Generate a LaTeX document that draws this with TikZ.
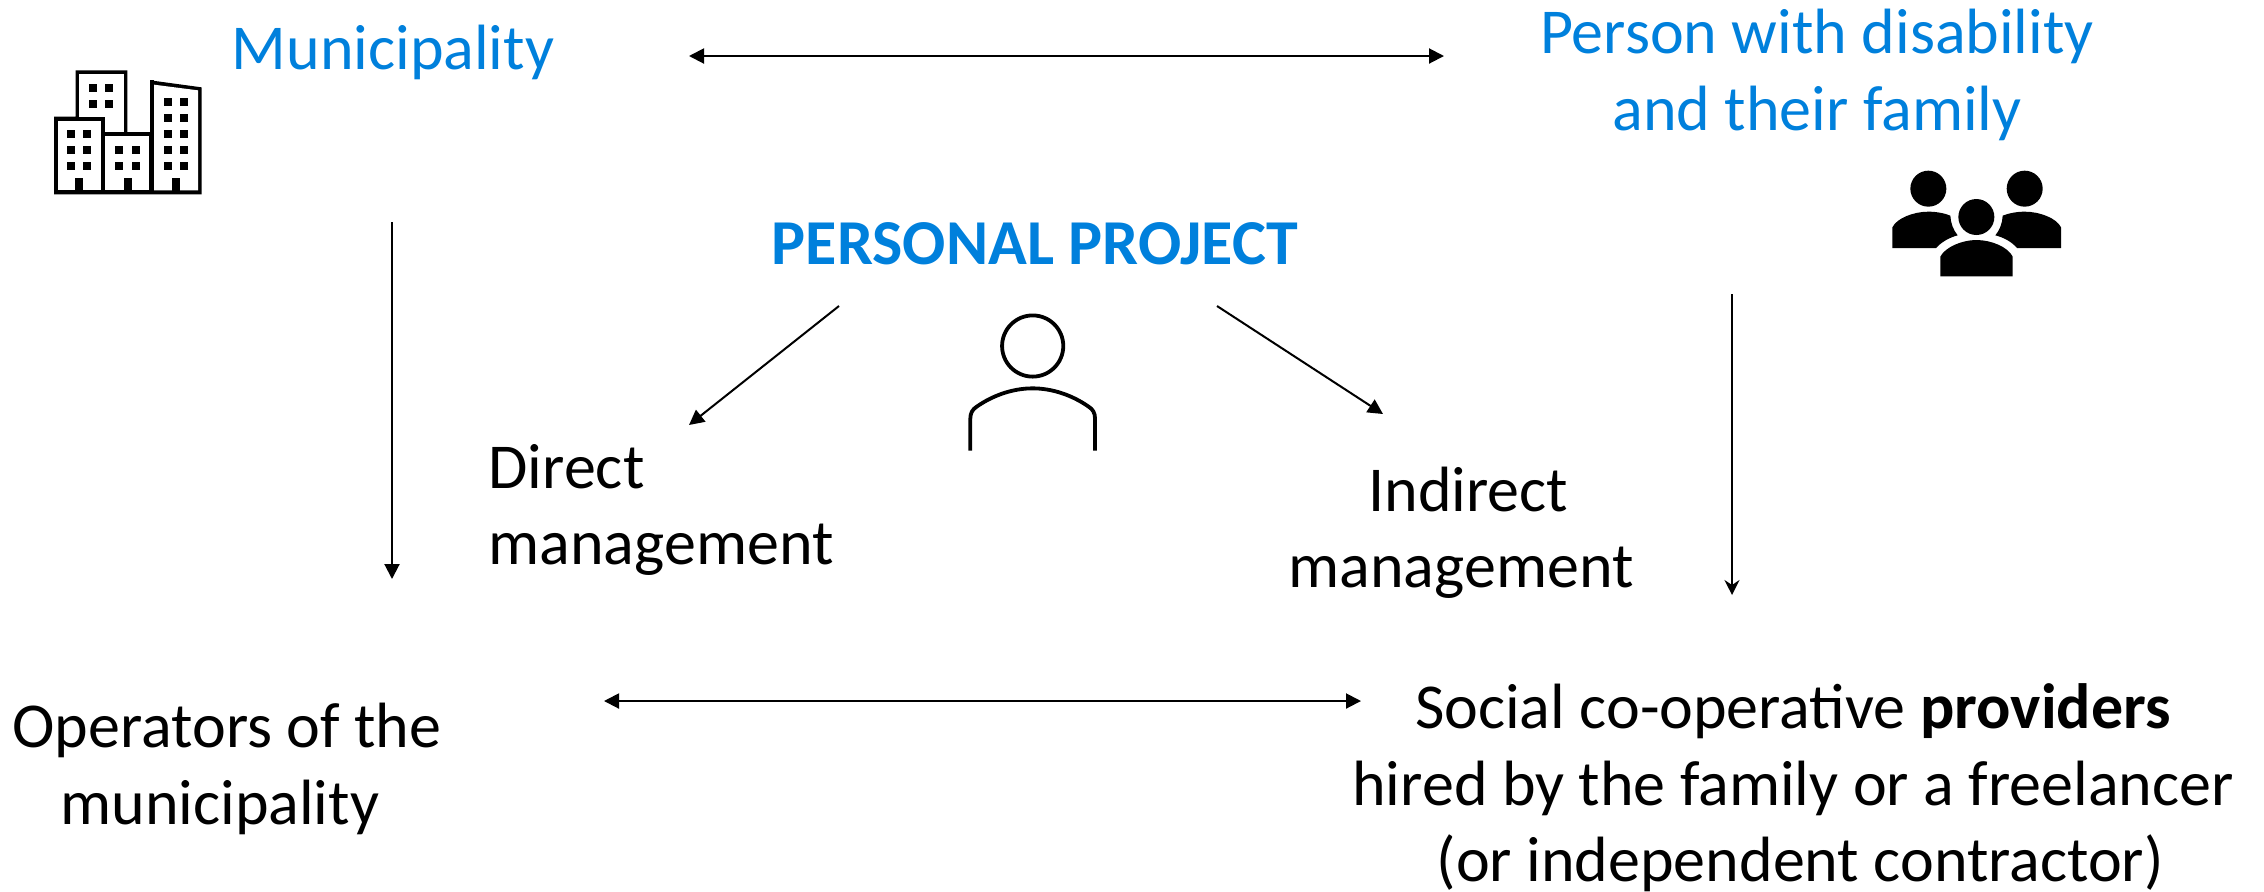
\documentclass[tikz,border=0pt]{standalone}
\usepackage{fontspec}
\setmainfont{Carlito}
\usetikzlibrary{arrows.meta}
\definecolor{blu}{RGB}{0,128,220}
\tikzset{
 tipa/.tip={Triangle[length=7.5pt,width=7.5pt]},
 tipb/.tip={Stealth[length=7.5pt,width=7.5pt,inset=2.5pt]},
 conn/.style={line width=1pt,-tipa},
 nconn/.style={line width=1pt,-tipb},
 dconn/.style={line width=1pt,tipa-tipa},
 lab/.style={font=\fontsize{32}{38.2}\selectfont,inner sep=0pt,align=center,text=black},
 blab/.style={lab,text=blu},
 icz/.style={x=0.16667pt,y=-0.16667pt}
}
\begin{document}
\begin{tikzpicture}[x=0.5pt,y=-0.5pt]
\useasboundingbox (0,0) rectangle (2264,891);
\node[blab] (mun) at (393,52) {Municipality};
\node[blab] (pwd) at (1817,75) {Person with disability\\and their family};
\node[blab,font=\fontsize{32}{38.2}\selectfont\bfseries] (pp) at (1035,244) {PERSONAL PROJECT};
\node[lab,align=left] (dm) at (661,510) {Direct\\management};
\node[lab] (im) at (1461,533) {\hspace*{7.2pt}Indirect\\management};
\node[lab] (op) at (227,769) {Operators of the\\municipality\hspace*{7.2pt}};
\node[lab] (sc) at (1793,788) {Social co-operative \textbf{providers}\\hired by the family or a freelancer\\\hspace*{7.2pt}(or independent contractor)};
\coordinate (a1) at (689,56); \coordinate (a2) at (1444,56);
\coordinate (b1) at (392,222); \coordinate (b2) at (392,579);
\coordinate (c1) at (1732,294); \coordinate (c2) at (1732,595);
\coordinate (d1) at (839,306); \coordinate (d2) at (689,425);
\coordinate (e1) at (1217,306); \coordinate (e2) at (1383,414);
\coordinate (f1) at (604,701); \coordinate (f2) at (1361,701);
\draw[dconn] (a1) -- (a2);
\draw[conn] (b1) -- (b2);
\draw[nconn] (c1) -- (c2);
\draw[conn] (d1) -- (d2);
\draw[conn] (e1) -- (e2);
\draw[dconn] (f1) -- (f2);
% buildings
\begin{scope}[shift={(30,40)},icz]
\fill[black] (72,230) -- (72,463) -- (515,463) -- (515,142) -- (361,121) -- (361,277) -- (292,277) -- (292,91) -- (137,91) -- (137,230) -- cycle;
\fill[white] (148,102) rectangle (281,277);
\fill[white] (84,242) rectangle (214,451);
\fill[white] (226,289) rectangle (358,451);
\fill[white] (372,134) -- (504,151) -- (504,451) -- (372,451) -- cycle;
\fill[black] (72,230) rectangle (226,242);
\fill[black] (214,230) rectangle (226,463);
\fill[black] (226,277) rectangle (361,289);
\fill[black] (360,121) rectangle (372,463);
\foreach \x/\y in {178/132,226/132,178/181,226/181,
 112/271,160/271,112/319,160/319,112/367,160/367,
 256/319,305/319,256/367,305/367,
 401/175,449/175,401/223,449/223,401/271,449/271,401/319,449/319,401/367,449/367}
 \fill[black] (\x,\y) rectangle ++(24,24);
\foreach \x in {136,281,425} \fill[black] (\x,415) rectangle ++(24,40);
\end{scope}
% group
\begin{scope}[shift={(1870,150)},icz]
\fill[black] (175,116) circle[radius=9pt];
\fill[black] (464,116) circle[radius=9pt];
\fill[black] (67,294) -- (67,232) .. controls (80,205) and (130,185) .. (175,185) .. controls (200,185) and (225,190) .. (241,197) .. controls (242,220) and (250,240) .. (263,256) .. controls (240,262) and (215,275) .. (198,294) -- cycle;
\fill[black] (573,294) -- (573,232) .. controls (560,205) and (510,185) .. (464,185) .. controls (440,185) and (415,190) .. (398,197) .. controls (397,220) and (389,240) .. (376,256) .. controls (400,262) and (425,275) .. (441,294) -- cycle;
\fill[black] (319,201) circle[radius=9pt];
\fill[black] (211,379) -- (211,320) .. controls (225,292) and (275,270) .. (319,270) .. controls (365,270) and (415,292) .. (428,320) -- (428,379) -- cycle;
\end{scope}
% person
\begin{scope}[shift={(940,290)},icz]
\draw[line width=1.9pt] (278,168) circle[radius=15.3pt];
\draw[line width=1.9pt] (91,482) -- (91,385) .. controls (91,370) and (97,358) .. (110,350) .. controls (160,315) and (220,295) .. (278,295) .. controls (336,295) and (396,315) .. (446,350) .. controls (459,358) and (465,370) .. (465,385) -- (465,482);
\end{scope}
\end{tikzpicture}
\end{document}
